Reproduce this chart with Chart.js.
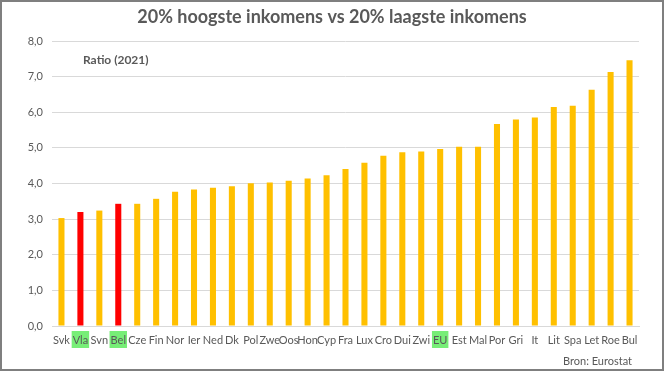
<!DOCTYPE html>
<html>
<head>
<meta charset="utf-8">
<script src="https://cdn.jsdelivr.net/npm/chart.js@4.4.1/dist/chart.umd.min.js"></script>
<style>
  html, body { margin: 0; padding: 0; background: #fff; }
  #wrap { width: 664px; height: 371px; }
</style>
</head>
<body>
<div id="wrap"><canvas id="ratioChart" width="664" height="371"></canvas></div>
<script>
// Landen (gesorteerd op ratio)
const countries = ["Svk", "Vla", "Svn", "Bel", "Cze", "Fin", "Nor", "Ier", "Ned", "Dk",
    "Pol", "Zwe", "Oos", "Hon", "Cyp", "Fra", "Lux", "Cro", "Dui", "Zwi",
    "EU", "Est", "Mal", "Por", "Gri", "It", "Lit", "Spa", "Let", "Roe", "Bul"];

// Ratio S80/S20 (2021)
const ratios = [3.03, 3.20, 3.24, 3.43, 3.43, 3.57, 3.77, 3.83, 3.88, 3.92,
    4.01, 4.03, 4.08, 4.14, 4.23, 4.41, 4.58, 4.78, 4.88, 4.90,
    4.97, 5.03, 5.03, 5.67, 5.80, 5.85, 6.15, 6.18, 6.63, 7.13, 7.46];

// Labels met groene achtergrond, balken in rood
const highlightLabels = ["Vla", "Bel", "EU"];
const redBars = ["Vla", "Bel"];

const textGrey = '#595959';
const fontFam = 'Lato, "Open Sans", sans-serif';

// Groene markering achter de x-labels
const labelHighlight = {
    id: 'labelHighlight',
    beforeDraw(chart) {
        const ctx = chart.ctx;
        const x = chart.scales.x;
        ctx.save();
        ctx.font = '11px ' + fontFam;
        ctx.fillStyle = '#77EE77';
        countries.forEach((c, i) => {
            if (!highlightLabels.includes(c)) return;
            const px = x.getPixelForTick(i);
            const w = ctx.measureText(c).width + 2;
            ctx.fillRect(px - w / 2, x.top + 5, w, 17);
        });
        ctx.restore();
    }
};

// Titel, subtitel, bron en kader
const extraText = {
    id: 'extraText',
    afterDraw(chart) {
        const ctx = chart.ctx;
        ctx.save();
        ctx.fillStyle = textGrey;
        ctx.textBaseline = 'middle';
        ctx.textAlign = 'center';
        ctx.font = 'bold 18px ' + fontFam;
        ctx.fillText('20% hoogste inkomens vs 20% laagste inkomens', 332, 17);
        ctx.textAlign = 'left';
        ctx.font = 'bold 12px ' + fontFam;
        ctx.fillText('Ratio (2021)', 83, 60);
        ctx.font = '11px ' + fontFam;
        ctx.fillText('Bron: Eurostat', 563, 361);
        ctx.strokeStyle = '#7f7f7f';
        ctx.lineWidth = 2;
        ctx.strokeRect(1, 1, 662, 369);
        ctx.restore();
    }
};

new Chart(document.getElementById('ratioChart').getContext('2d'), {
    type: 'bar',
    data: {
        labels: countries,
        datasets: [{
            data: ratios,
            backgroundColor: countries.map(c => redBars.includes(c) ? '#FF0000' : '#FFC000'),
            barPercentage: 0.64,
            categoryPercentage: 0.5
        }]
    },
    options: {
        responsive: false,
        animation: false,
        layout: { padding: { left: 0, right: 25, top: 41, bottom: 0 } },
        plugins: {
            legend: { display: false },
            title: { display: false },
            tooltip: { enabled: false }
        },
        scales: {
            x: {
                grid: { display: false, drawTicks: false },
                border: { color: '#d9d9d9' },
                ticks: {
                    color: textGrey,
                    font: { family: fontFam, size: 11 },
                    padding: 8,
                    maxRotation: 0,
                    autoSkip: false
                },
                afterFit: s => { s.height = 45; }
            },
            y: {
                min: 0,
                max: 8,
                grid: { color: '#d9d9d9', drawTicks: false },
                border: { display: false },
                ticks: {
                    stepSize: 1,
                    color: textGrey,
                    font: { family: fontFam, size: 11 },
                    padding: 9,
                    callback: v => v.toFixed(1).replace('.', ',')
                },
                afterFit: s => { s.width = 52; }
            }
        }
    },
    plugins: [labelHighlight, extraText]
});
</script>
</body>
</html>
